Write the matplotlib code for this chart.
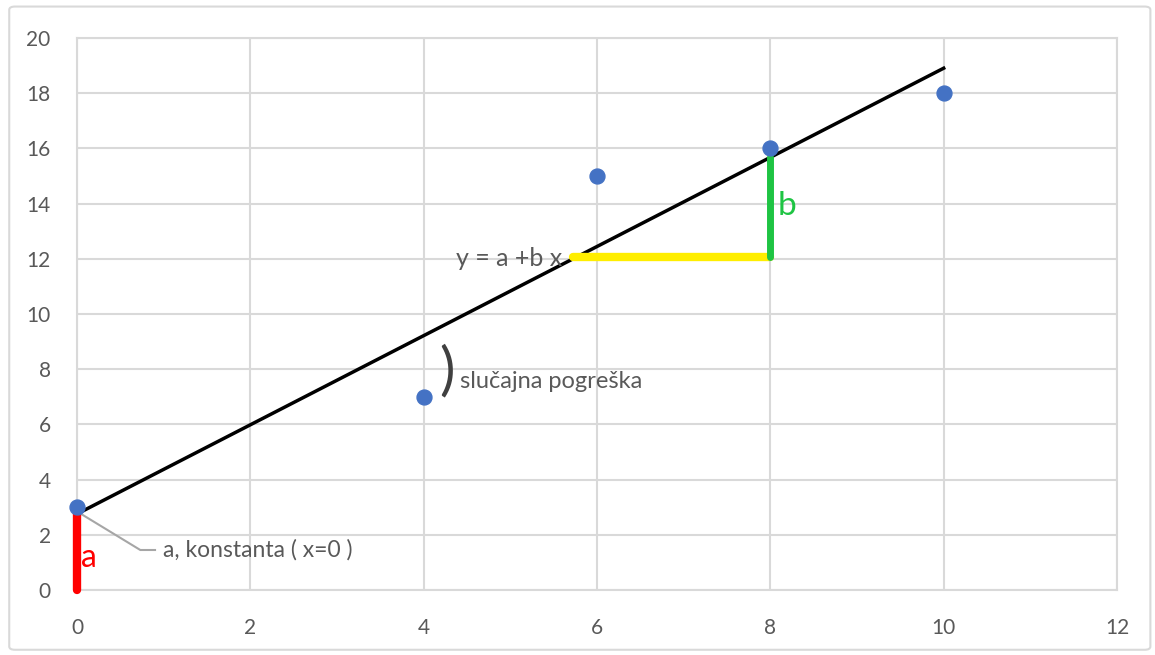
import numpy as np
import matplotlib.pyplot as plt
from matplotlib.patches import FancyBboxPatch

plt.rcParams['font.family'] = ['Lato', 'DejaVu Sans']

# Data points
x_vals = [0, 4, 6, 8, 10]
y_vals = [3, 7, 15, 16, 18]

# Axis ticks
x_ticks = [0, 2, 4, 6, 8, 10, 12]
y_ticks = [0, 2, 4, 6, 8, 10, 12, 14, 16, 18, 20]

# Linear trendline (least squares, like Excel)
b, a = np.polyfit(x_vals, y_vals, 1)
line_x = np.array([0, 10])
line_y = a + b * line_x

# Helper segments
yellow_x = [5.72, 8]
yellow_y = [12.05, 12.05]
green_x = [8, 8]
green_y = [12.05, 15.7]
red_x = [0, 0]
red_y = [0, a]

fig = plt.figure(figsize=(11.55, 6.55), dpi=100)
ax = fig.add_axes([0.0667, 0.0992, 0.9004, 0.8428])

grid_c = '#d9d9d9'
text_c = '#595959'

ax.set_xlim(0, 12)
ax.set_ylim(0, 20)
ax.set_xticks(x_ticks)
ax.set_yticks(y_ticks)
ax.grid(True, color=grid_c, linewidth=1.5)
ax.set_axisbelow(True)
for s in ax.spines.values():
    s.set_color(grid_c)
    s.set_linewidth(1.5)
ax.tick_params(length=0, labelsize=15, labelcolor=text_c)
ax.tick_params(axis='x', pad=20)
ax.tick_params(axis='y', pad=19)

# Trendline
ax.plot(line_x, line_y, color='black', linewidth=2.5, zorder=3, clip_on=False)

# Helper segments
ax.plot(yellow_x, yellow_y, color='#ffee00', linewidth=6, solid_capstyle='round', zorder=4)
ax.plot(green_x, green_y, color='#1ec443', linewidth=5, solid_capstyle='round', zorder=4)
ax.plot(red_x, red_y, color='#ff0000', linewidth=6, solid_capstyle='round', zorder=4, clip_on=False)

# Points
ax.scatter(x_vals, y_vals, s=115, color='#4472c4', zorder=5, clip_on=False)

# Leader line for constant a
ax.plot([0.05, 0.73, 0.9], [2.75, 1.45, 1.45], color='#a6a6a6', linewidth=1.5, zorder=3)

# Annotations
ax.text(0.99, 1.45, 'a, konstanta ( x=0 )', fontsize=16.5, color=text_c, va='center', ha='left')
ax.text(0.05, 1.15, 'a', fontsize=23, color='#ff0000', va='center', ha='left')
ax.text(8.08, 13.9, 'b', fontsize=24, color='#1ec443', va='center', ha='left')
ax.text(5.6, 12.0, 'y = a +b x', fontsize=18, color=text_c, va='center', ha='right')
ax.text(4.18, 7.9, ')', fontsize=42, color='#404040', va='center', ha='left')
ax.text(4.42, 7.55, 'slučajna pogreška', fontsize=17, color=text_c, va='center', ha='left')

# Outer chart border
border = FancyBboxPatch((0.008, 0.008), 0.988, 0.982, boxstyle='round,pad=0,rounding_size=0.005',
                        transform=fig.transFigure, fill=False, edgecolor='#d9d9d9', linewidth=1.5)
fig.patches.append(border)

fig.savefig('out.png', dpi=100)
